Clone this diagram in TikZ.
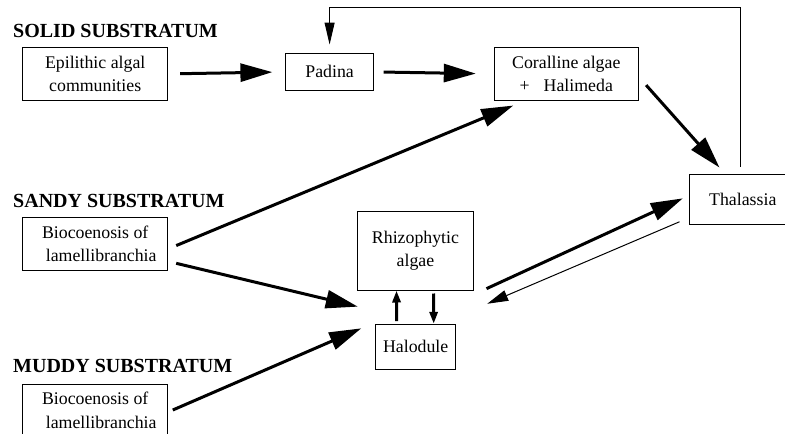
\documentclass[tikz,border=0pt]{standalone}
\usepackage{fontspec}
\setmainfont{Liberation Serif}
\usetikzlibrary{arrows.meta,calc}
\tikzset{boxnode/.style={
    draw=black,
    line width=1pt,
    align=center,
    inner sep=0pt,
    font=\fontsize{17.8}{23.5}\selectfont}}
\tikzset{headline/.style={
    anchor=west,
    inner sep=0pt,
    font=\fontsize{20}{24}\selectfont\bfseries}}
\tikzset{bigarrow/.style={
    draw=black,
    line width=3pt,
    -{Triangle[length=32pt,width=18pt]}}}
\tikzset{smallarrow/.style={
    draw=black,
    line width=3pt,
    -{Triangle[length=12pt,width=8pt]}}}
\tikzset{thinarrow/.style={
    draw=black,
    line width=1pt,
    -{Triangle[length=21pt,width=11pt]}}}

\begin{document}
\begin{tikzpicture}[x=1pt,y=-1pt]
\useasboundingbox (0,0) rectangle (785,434);
\clip (0,0) rectangle (785,434);
	\coordinate (E) at (95.2,73.9);
\coordinate (P) at (329.6,71.9);
\coordinate (C) at (566.3,73.9);
\coordinate (T) at (742.8,199);
\coordinate (S) at (95.2,243.9);
\coordinate (R) at (415.5,250.5);
\coordinate (H) at (415.7,346.8);
\coordinate (M) at (95.2,410.2);
\coordinate (top) at (0,7);

\node[headline] (solid) at (13,30.5) {SOLID SUBSTRATUM};
\node[headline] (sandy) at (13,200.5) {SANDY SUBSTRATUM};
\node[headline] (muddy) at (13,365.5) {MUDDY SUBSTRATUM};

\node[boxnode,minimum width=145pt,minimum height=52.3pt] (epi) at (E) {Epilithic algal\\communities};
\node[boxnode,minimum width=88pt,minimum height=37.7pt] (padina) at (P) {Padina};
\node[boxnode,minimum width=144pt,minimum height=52.3pt] (coral) at (C) {Coralline algae\\+\hspace{14pt}Halimeda};
\node[boxnode,minimum width=107pt,minimum height=50pt] (thal) at (T) {Thalassia};
\node[boxnode,minimum width=145pt,minimum height=52.3pt] (sandybio) at (S) {Biocoenosis of\\\hspace*{12pt}lamellibranchia};
\node[boxnode,minimum width=115.6pt,minimum height=79pt] (rhizo) at (R) {Rhizophytic\\algae};
\node[boxnode,minimum width=80pt,minimum height=45pt] (halo) at (H) {Halodule};
\node[boxnode,minimum width=145pt,minimum height=52.3pt] (muddybio) at (M) {Biocoenosis of\\\hspace*{12pt}lamellibranchia};

	\path[bigarrow,shorten <=12pt,shorten >=12.7pt] (epi.east) -- (padina.west);
	\path[bigarrow,shorten <=9.5pt,shorten >=18pt] (padina.east) -- (coral.west);
	\path[bigarrow,shorten <=11pt,shorten >=8pt] ([yshift=-3pt]coral.east) -- ([xshift=36pt]thal.north west);
	\path[thinarrow,-{Triangle[length=22pt,width=10pt]},shorten <=7pt,shorten >=8pt] ([xshift=-2pt]thal.north) |- (top -| padina.north) -- (padina.north);
	\path[bigarrow,shorten <=8.7pt,shorten >=13pt] ([yshift=-5pt]sandybio.east) -- ([xshift=-41pt]coral.south);
	\path[bigarrow,shorten <=8.2pt,shorten >=17.9pt] ([yshift=-17.5pt]sandybio.east) -- ([yshift=36pt]halo.west);
	\path[bigarrow,shorten <=5pt,shorten >=15.2pt] ([yshift=-1.8pt]muddybio.east) -- ([yshift=24.5pt]halo.west);
	\path[bigarrow,shorten <=14pt,shorten >=6.6pt] ([yshift=-4pt]rhizo.south east) -- ([yshift=3.4pt]thal.west);
	\path[thinarrow,shorten <=10.1pt,shorten >=14.6pt] ([yshift=-18.8pt]thal.west) -- ([yshift=-19pt]rhizo.south east);
	\path[smallarrow,shorten <=2.6pt] ([xshift=-19pt]halo.north) -- ([xshift=-19pt]rhizo.south);
	\path[smallarrow,shorten <=3pt] ([xshift=18pt]rhizo.south) -- ([xshift=18pt]halo.north);
  
\end{tikzpicture}
\end{document}
